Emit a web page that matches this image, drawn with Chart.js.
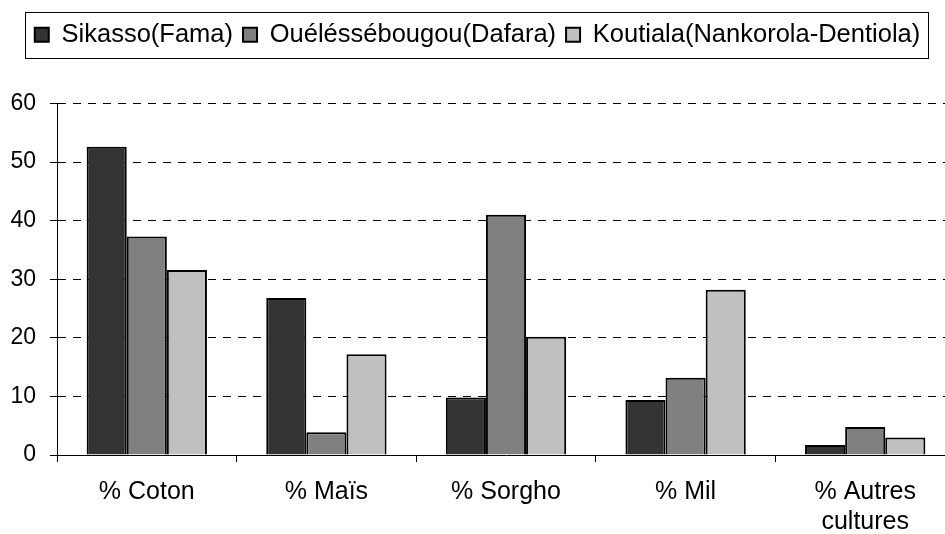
<!DOCTYPE html>
<html>
<head>
<meta charset="utf-8">
<script src="https://cdn.jsdelivr.net/npm/chart.js@4"></script>
<style>
  html, body { margin: 0; padding: 0; background: #fff; overflow: hidden; }
  /* the last category runs past the right edge in the original, so the canvas is a bit wider than the page */
  #wrap { width: 945px; height: 534px; overflow: hidden; }
</style>
</head>
<body>
<div id="wrap"><canvas id="chart" width="955" height="534"></canvas></div>
<script>
const categories = ['% Coton', '% Maïs', '% Sorgho', '% Mil', ['% Autres', 'cultures']];
const sikasso = [52.6, 26.8, 9.8, 9.4, 1.7];
const oueles = [37.3, 3.9, 41.0, 13.2, 4.8];
const koutiala = [31.6, 17.2, 20.2, 28.2, 3.0];
const seriesNames = ['Sikasso(Fama)', 'Ouéléssébougou(Dafara)', 'Koutiala(Nankorola-Dentiola)'];
const yTicks = [0, 10, 20, 30, 40, 50, 60];

const FONT = "'Liberation Sans', Arial, sans-serif";

// box round the legend, like the spreadsheet one
const legendBox = {
  id: 'legendBox',
  afterInit(chart) {
    // leave a gap under the legend
    const fit = chart.legend.fit;
    chart.legend.fit = function () {
      fit.call(this);
      this.height += 46;
    };
  },
  afterDraw(chart) {
    const boxes = chart.legend.legendHitBoxes;
    if (!boxes || !boxes.length) return;
    const first = boxes[0], last = boxes[boxes.length - 1];
    const ctx = chart.ctx;
    ctx.save();
    ctx.strokeStyle = '#000';
    ctx.lineWidth = 1;
    ctx.strokeRect(Math.round(first.left - 10) + 0.5, Math.round(first.top - 10) + 0.5,
      Math.round(last.left + last.width - first.left + 18), Math.round(first.height + 20));
    ctx.restore();
  }
};

const makeSet = (label, data, color) => ({
  label,
  data,
  backgroundColor: color,
  borderColor: '#000',
  borderWidth: 2,
  categoryPercentage: 0.67,
  barPercentage: 1,
});

new Chart(document.getElementById('chart'), {
  type: 'bar',
  data: {
    labels: categories,
    datasets: [
      makeSet(seriesNames[0], sikasso, '#333333'),
      makeSet(seriesNames[1], oueles, '#808080'),
      makeSet(seriesNames[2], koutiala, '#c0c0c0'),
    ],
  },
  options: {
    responsive: false,
    animation: false,
    layout: { padding: { top: 12, right: 0, left: 0, bottom: 0 } },
    scales: {
      x: {
        offset: true,
        afterFit: (axis) => { axis.height = 79; },
        grid: {
          display: true,
          offset: true,
          drawOnChartArea: false,
          color: '#000',
          tickLength: 7,
        },
        border: { display: true, color: '#000', width: 1 },
        ticks: {
          color: '#000',
          font: { family: FONT, size: 25 },
          padding: 15,
          maxRotation: 0,
          autoSkip: false,
        },
      },
      y: {
        min: 0,
        max: 60,
        afterBuildTicks: (axis) => {
          axis.ticks = yTicks.map((v) => ({ value: v }));
        },
        afterFit: (axis) => { axis.width = 57; },
        grid: {
          color: '#000',
          lineWidth: 1,
          tickBorderDash: [],
          tickLength: 7,
        },
        border: { display: true, color: '#000', width: 1, dash: [8, 7] },
        ticks: {
          color: '#000',
          font: { family: FONT, size: 23 },
          padding: 14,
        },
      },
    },
    plugins: {
      legend: {
        position: 'top',
        labels: {
          color: '#000',
          font: { family: FONT, size: 25.5 },
          boxWidth: 14,
          boxHeight: 14,
          padding: 10,
        },
      },
      tooltip: { enabled: false },
    },
  },
  plugins: [legendBox],
});
</script>
</body>
</html>
